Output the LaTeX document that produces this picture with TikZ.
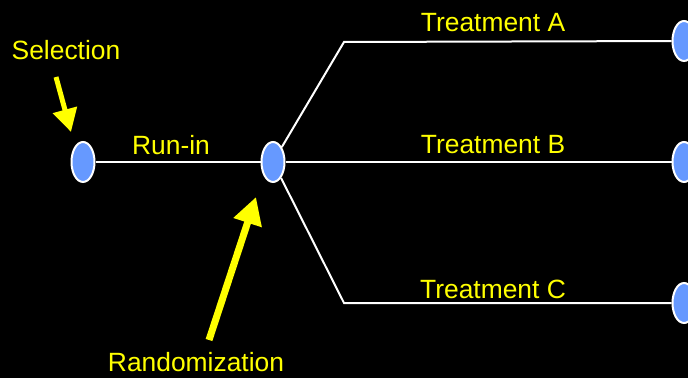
\documentclass[tikz,border=0pt]{standalone}
\usepackage{fontspec}
\setmainfont{Liberation Sans}
\usetikzlibrary{arrows.meta,positioning,shapes.geometric}
\definecolor{mBg}{HTML}{000000}
\definecolor{mNode}{HTML}{6699FF}
\definecolor{mLabel}{HTML}{FFFF00}
\tikzset{
  visit/.style ={ellipse,fill=mNode,draw=white,line width=1pt,inner sep=0pt,minimum width=11.5pt,minimum height=20pt},
  lbl/.style   ={text=mLabel,inner sep=0pt,font=\fontsize{13.2}{15}\selectfont},
  arm/.style   ={white,line width=1pt},
  pointer/.style={-{Triangle[length=11.5pt,width=12pt]},mLabel,line width=2.5pt},
}
\begin{document}
\begin{tikzpicture}[x=0.5pt,y=-0.5pt]
  \fill[mBg] (0,0) rectangle (688,378);
  \useasboundingbox (0,0) rectangle (688,378);
  % timeline nodes
  \node[visit] (sel)  at (83,162)  {};
  \node[visit] (rand) at (273,162) {};
  \node[visit] (tA)   at (684,41)  {};
  \node[visit] (tB)   at (684,162) {};
  \node[visit] (tC)   at (684,303) {};
  \coordinate (cA) at (344,42);
  \coordinate (cC) at (344,303);
  % arms
  \draw[arm] (sel)--(rand);
  \draw[arm] (rand)--(cA)--(tA);
  \draw[arm] (rand)--(tB);
  \draw[arm] (rand)--(cC)--(tC);
  % labels
  \node[lbl] (lsel)  at (66,50)   {Selection};
  \node[lbl] (lrun)  at (171,145) {Run-in};
  \node[lbl] (lA)    at (493,23)  {Treatment A};
  \node[lbl] (lB)    at (493,145) {Treatment B};
  \node[lbl] (lC)    at (493,289) {Treatment C};
  \node[lbl] (lrand) at (196,362) {Randomization};
  % pointers
  \coordinate (selTail) at (56,77);
  \coordinate (selTip)  at (71,132);
  \coordinate (randTail) at (209,340);
  \coordinate (randTip)  at (256,197);
  \draw[pointer] (selTail)--(selTip);
  \draw[pointer,line width=3.5pt,-{Triangle[length=13.5pt,width=14pt]}] (randTail)--(randTip);
\end{tikzpicture}
\end{document}
